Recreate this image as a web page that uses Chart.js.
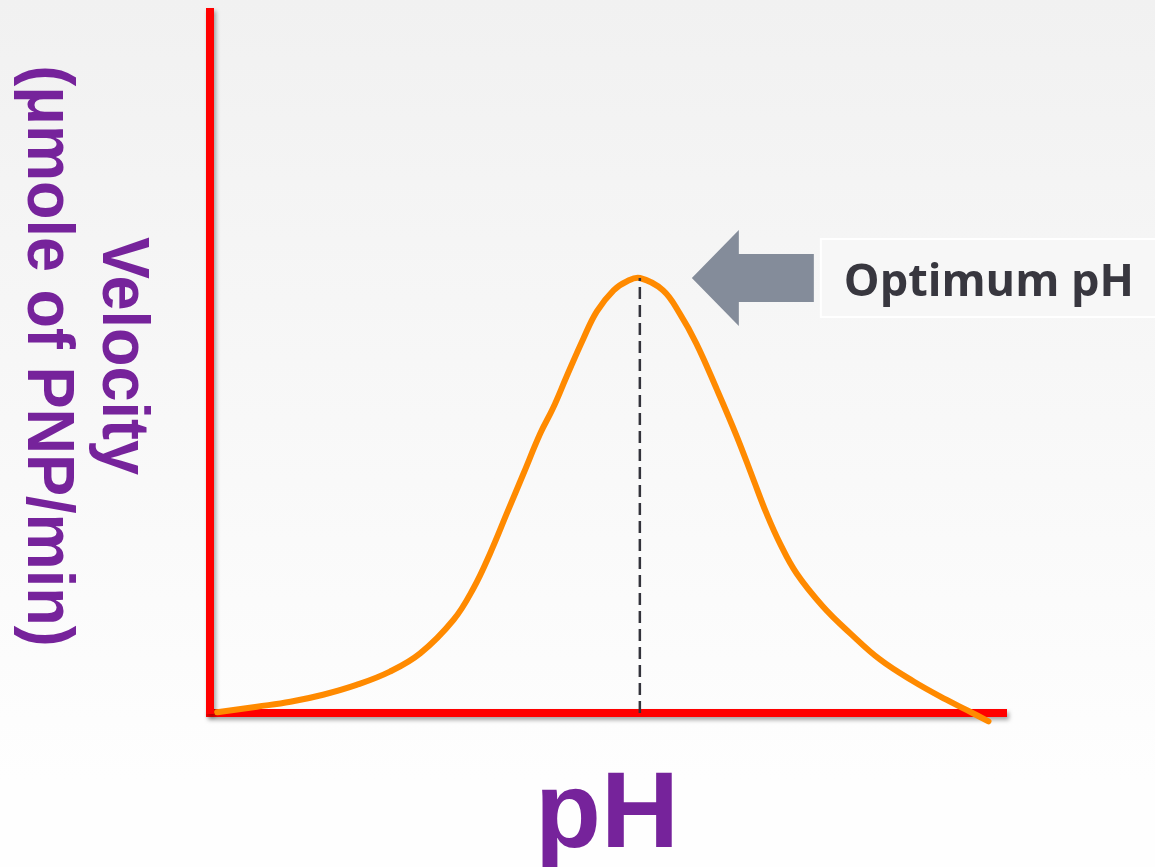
<!DOCTYPE html>
<html>
<head>
<meta charset="utf-8">
<script src="https://cdn.jsdelivr.net/npm/chart.js@4"></script>
<style>
  html, body { margin: 0; padding: 0; }
  body { width: 1155px; height: 867px; background: linear-gradient(#f1f1f1, #fefefe 90%); overflow: hidden; }
  #wrap { position: relative; width: 1155px; height: 867px; }
</style>
</head>
<body>
<div id="wrap"><canvas id="phChart"></canvas></div>
<script>
// relative pH position (0-100) and relative velocity (0-100)
const phValues = [0.9, 5.9, 10.1, 14.2, 18.4, 22.6, 26.4, 30.6, 33.1, 35.2, 37.3, 39.4, 41.5, 43.1, 44.8, 46.9,
    48.6, 50.7, 52.4, 54.0, 56.9, 59.0, 61.1, 63.7, 66.2, 68.3, 69.9, 71.6, 73.7, 77.0, 80.4, 84.2, 88.4, 92.5, 95.1, 97.8];
const velocityValues = [0.1, 0.9, 1.6, 2.6, 4.0, 5.9, 8.5, 13.3, 17.8, 22.8, 28.5, 34.2, 39.9, 43.5, 48.0, 53.4,
    57.3, 60.3, 61.6, 62.05, 60.3, 57.0, 52.7, 46.1, 39.4, 33.2, 28.5, 24.2, 19.9, 15.2, 11.4, 7.6, 4.5, 1.9, 0.4, -1.2];
const optimumPh = 54.0;
const optimumVelocity = 62.05;

const xTitle = "pH";
const yTitle = ["Velocity", "(μmole of PNP/min)"];
const noteText = "Optimum pH";

const purple = "#76239b";

const curve = phValues.map((x, i) => ({ x: x, y: velocityValues[i] }));

// red axes get a soft shadow like the slide
const axisShadow = {
    id: "axisShadow",
    beforeDraw(chart) {
        const ctx = chart.ctx;
        ctx.save();
        ctx.shadowColor = "rgba(0,0,0,0.35)";
        ctx.shadowBlur = 4;
        ctx.shadowOffsetX = 2;
        ctx.shadowOffsetY = 3;
    },
    beforeDatasetsDraw(chart) {
        chart.ctx.restore();
    }
};

const labels = {
    id: "labels",
    afterDraw(chart) {
        const ctx = chart.ctx;
        const xs = chart.scales.x, ys = chart.scales.y;
        const px = xs.getPixelForValue(optimumPh);
        const py = ys.getPixelForValue(optimumVelocity);

        // arrow pointing at the peak
        ctx.save();
        ctx.fillStyle = "#848c9a";
        ctx.beginPath();
        ctx.moveTo(px + 52, py);
        ctx.lineTo(px + 99, py - 48);
        ctx.lineTo(px + 99, py - 24);
        ctx.lineTo(px + 174, py - 24);
        ctx.lineTo(px + 174, py + 24);
        ctx.lineTo(px + 99, py + 24);
        ctx.lineTo(px + 99, py + 48);
        ctx.closePath();
        ctx.fill();

        // note box
        ctx.fillStyle = "#f7f7f7";
        ctx.strokeStyle = "#ffffff";
        ctx.lineWidth = 2;
        ctx.fillRect(px + 181, py - 39, 400, 78);
        ctx.strokeRect(px + 181, py - 39, 400, 78);
        ctx.fillStyle = "#38373f";
        ctx.font = "bold 45px 'Open Sans', 'Liberation Sans', sans-serif";
        ctx.textBaseline = "alphabetic";
        ctx.textAlign = "left";
        ctx.fillText(noteText, px + 204, py + 18);
        ctx.restore();

        // x title
        ctx.save();
        ctx.fillStyle = purple;
        ctx.font = "bold 108px 'Liberation Sans', Arial, sans-serif";
        ctx.textAlign = "center";
        ctx.fillText(xTitle, 607, 847);
        ctx.restore();

        // y title, reads top to bottom
        ctx.save();
        ctx.fillStyle = purple;
        ctx.font = "bold 66px 'Liberation Sans', Arial, sans-serif";
        ctx.textAlign = "center";
        const baseX = [103, 28];
        yTitle.forEach((t, i) => {
            ctx.save();
            ctx.translate(baseX[i], 356);
            ctx.rotate(Math.PI / 2);
            ctx.scale(0.955, 1);
            ctx.fillText(t, 0, 0);
            ctx.restore();
        });
        ctx.restore();
    }
};

new Chart(document.getElementById("phChart"), {
    type: "line",
    data: {
        datasets: [
            {
                data: [{ x: optimumPh, y: 0 }, { x: optimumPh, y: optimumVelocity }],
                borderColor: "#33333b",
                borderWidth: 2.5,
                borderDash: [12, 6],
                pointRadius: 0,
                clip: false
            },
            {
                data: curve,
                borderColor: "#ff8a00",
                borderWidth: 6,
                borderCapStyle: "round",
                borderJoinStyle: "round",
                tension: 0.4,
                pointRadius: 0,
                clip: false
            }
        ]
    },
    options: {
        responsive: true,
        maintainAspectRatio: false,
        animation: false,
        layout: { padding: { left: 210, right: 149, top: 12, bottom: 154 } },
        plugins: { legend: { display: false }, tooltip: { enabled: false } },
        scales: {
            x: {
                type: "linear", min: 0, max: 100,
                grid: { display: true, color: "rgba(0,0,0,0)", drawTicks: false },
                ticks: { display: false },
                border: { color: "#ff0000", width: 8 }
            },
            y: {
                min: 0, max: 100,
                grid: { display: true, color: "rgba(0,0,0,0)", drawTicks: false },
                ticks: { display: false },
                border: { color: "#ff0000", width: 8 }
            }
        }
    },
    plugins: [axisShadow, labels]
});
</script>
</body>
</html>
